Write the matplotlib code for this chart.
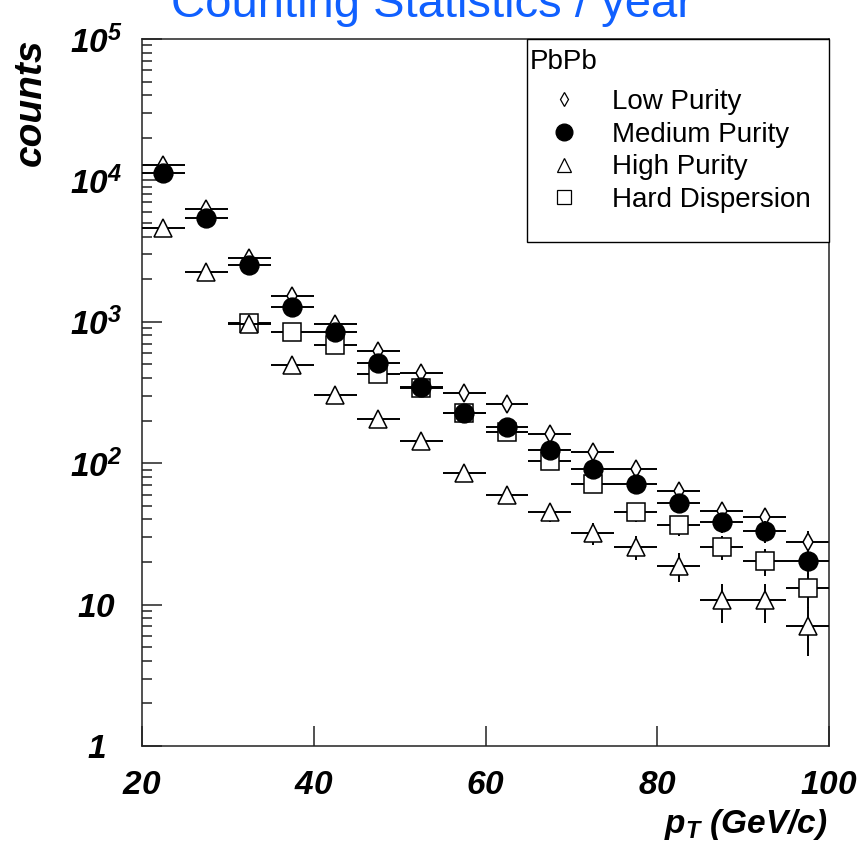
# Counting statistics per year, PbPb - ROOT-style log plot
import numpy as np
import matplotlib
matplotlib.use("Agg")
import matplotlib.pyplot as plt
from matplotlib.lines import Line2D
from matplotlib.patches import Rectangle

# ---------------------------------------------------------------
# Data (bin centres, 5 GeV/c wide bins)
pt = [22.5, 27.5, 32.5, 37.5, 42.5, 47.5, 52.5, 57.5,
      62.5, 67.5, 72.5, 77.5, 82.5, 87.5, 92.5, 97.5]
half_width = 2.5

low_purity = [12800, 6250, 2820, 1525, 968, 625, 437, 316,
              264, 160, 119, 91, 63.5, 46, 41.7, 27.8]
medium_purity = [11200, 5390, 2520, 1275, 850, 514, 343, 225,
                 179, 124, 91, 71, 52, 38.5, 33.2, 20.4]
high_purity = [4590, 2250, 968, 498, 306, 204, 143, 85,
               60, 45, 32, 25.6, 18.8, 10.7, 10.7, 7.0]
hard_dispersion = [np.nan, np.nan, 980, 850, 689, 430, 340, 225,
                   165, 103, 71, 45, 36.6, 25.6, 20.4, 13.0]

ytick_vals = [1, 10, 1e2, 1e3, 1e4, 1e5]
ytick_labels = ['$1$', '$10$', '$10^{2}$', '$10^{3}$', '$10^{4}$', '$10^{5}$']
xtick_vals = [20, 40, 60, 80, 100]
xtick_labels = ['$20$', '$40$', '$60$', '$80$', '$100$']
# ---------------------------------------------------------------

plt.rcParams['font.family'] = ['Liberation Sans', 'DejaVu Sans']
plt.rcParams['mathtext.fontset'] = 'custom'
plt.rcParams['mathtext.rm'] = 'Liberation Sans:bold:italic'
plt.rcParams['mathtext.it'] = 'Liberation Sans:bold:italic'
plt.rcParams['mathtext.bf'] = 'Liberation Sans:bold:italic'

fig = plt.figure(figsize=(8.68, 8.51), dpi=100)
ax = fig.add_axes([0.1636, 0.1234, 0.7915, 0.8308])

# series: (values, marker, size, face, label) - drawn in ROOT order
series = [
    (low_purity, 'd', 9.0, 'white', 'Low Purity'),
    (hard_dispersion, 's', 13, 'white', 'Hard Dispersion'),
    (medium_purity, 'o', 13.5, 'black', 'Medium Purity'),
    (high_purity, '^', 13.5, 'white', 'High Purity'),
]

z = 2
for vals, mk, ms, face, lab in series:
    v = np.array(vals, dtype=float)
    ax.errorbar(pt, v, xerr=half_width, yerr=np.sqrt(v), fmt='none',
                ecolor='black', elinewidth=1.4, capsize=0, zorder=z)
    ax.plot(pt, v, linestyle='none', marker=mk, markersize=ms,
            markerfacecolor=face, markeredgecolor='black',
            markeredgewidth=1.1, zorder=z + 1)
    z += 2

ax.set_yscale('log')
ax.set_xlim(20, 100)
ax.set_ylim(1, 1e5)

# ticks, ROOT style (inside, only on left and bottom)
ax.set_yticks(ytick_vals, ytick_labels)
ax.set_xticks(xtick_vals, xtick_labels)
ax.tick_params(axis='both', which='both', direction='in', top=False, right=False,
               width=1.1, color='#222222')
ax.tick_params(axis='y', which='major', length=14.5, pad=33, labelsize=24)
ax.tick_params(axis='y', which='minor', length=7.2)
ax.tick_params(axis='x', which='major', length=14.5, pad=17, labelsize=24)
ax.tick_params(axis='x', which='minor', bottom=False)
plt.setp(ax.get_yticklabels(), ha='center')
for sp in ax.spines.values():
    sp.set_linewidth(1.1)
    sp.set_color('#222222')

# axis titles
fig.text(0.035, 0.9542, 'counts', rotation=90, ha='center', va='top',
         fontsize=28, fontweight='bold', fontstyle='italic')
fig.text(0.953, 0.031, '$p_{T}$ (GeV/c)', ha='right', va='center',
         fontsize=24, fontweight='bold', fontstyle='italic')

# title, cut off at the top like in the original
fig.text(0.4977, 1 - 17 / 851, 'Counting Statistics / year', ha='center',
         va='baseline', fontsize=34, color='#1060ff')

# legend box (frame drawn separately so it can be as tall as in the original)
ax.add_patch(Rectangle((0.5604, 0.7129), 0.4396, 0.2871, transform=ax.transAxes,
                       facecolor='white', edgecolor='black', linewidth=1.0,
                       zorder=19, clip_on=False))
ax.text(0.5648, 0.967, 'PbPb', transform=ax.transAxes, ha='left', va='center',
        fontsize=20, zorder=21)
handles = [
    Line2D([], [], linestyle='none', marker='d', markersize=7,
           markerfacecolor='white', markeredgecolor='black', markeredgewidth=0.9),
    Line2D([], [], linestyle='none', marker='o', markersize=12,
           markerfacecolor='black', markeredgecolor='black'),
    Line2D([], [], linestyle='none', marker='^', markersize=10,
           markerfacecolor='white', markeredgecolor='black', markeredgewidth=0.9),
    Line2D([], [], linestyle='none', marker='s', markersize=10,
           markerfacecolor='white', markeredgecolor='black', markeredgewidth=0.9),
]
labels = ['Low Purity', 'Medium Purity', 'High Purity', 'Hard Dispersion']
leg = ax.legend(handles, labels, loc='upper left',
                bbox_to_anchor=(0.5735, 0.9293), borderaxespad=0, borderpad=0,
                fontsize=20, frameon=False, handlelength=2.0,
                handletextpad=0.73, labelspacing=0.24)
leg.set_zorder(21)

plt.savefig('out.png', dpi=100)
